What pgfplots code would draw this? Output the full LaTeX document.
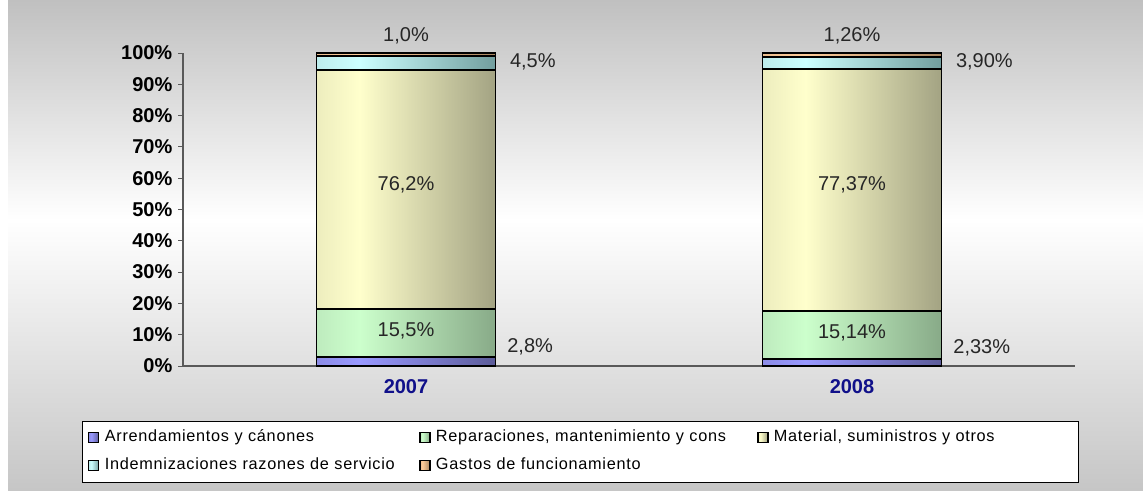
\documentclass[border=0pt]{standalone}
\usepackage{fontspec}
\setmainfont{Liberation Sans}
\newfontfamily\legfont[LetterSpace=4.5]{Liberation Sans}
\usepackage{pgfplots}
\pgfplotsset{compat=1.18}

% bar colours: left edge, bright streak, right edge
\definecolor{arrL}{HTML}{8C8CE6}\definecolor{arrB}{HTML}{9999FF}\definecolor{arrR}{HTML}{5C5C99}
\definecolor{repL}{HTML}{BEEBBE}\definecolor{repB}{HTML}{CCFFCC}\definecolor{repR}{HTML}{88AA88}
\definecolor{matL}{HTML}{EDEDBE}\definecolor{matB}{HTML}{FFFFCC}\definecolor{matR}{HTML}{A3A383}
\definecolor{indL}{HTML}{BEEDED}\definecolor{indB}{HTML}{CCFFFF}\definecolor{indR}{HTML}{729E9E}
\definecolor{gasL}{HTML}{EDBE8F}\definecolor{gasB}{HTML}{FFCC99}\definecolor{gasR}{HTML}{A88560}
\definecolor{navy}{HTML}{10108A}
\definecolor{bgtop}{HTML}{C0C0C0}
\definecolor{bgbot}{HTML}{C6C6C6}

\pgfdeclarehorizontalshading{arrS}{100bp}{color(0bp)=(arrL); color(25bp)=(arrL); color(37bp)=(arrB); color(75bp)=(arrR); color(100bp)=(arrR)}
\pgfdeclarehorizontalshading{repS}{100bp}{color(0bp)=(repL); color(25bp)=(repL); color(37bp)=(repB); color(75bp)=(repR); color(100bp)=(repR)}
\pgfdeclarehorizontalshading{matS}{100bp}{color(0bp)=(matL); color(25bp)=(matL); color(37bp)=(matB); color(75bp)=(matR); color(100bp)=(matR)}
\pgfdeclarehorizontalshading{indS}{100bp}{color(0bp)=(indL); color(25bp)=(indL); color(37bp)=(indB); color(75bp)=(indR); color(100bp)=(indR)}
\pgfdeclarehorizontalshading{gasS}{100bp}{color(0bp)=(gasL); color(25bp)=(gasL); color(37bp)=(gasB); color(75bp)=(gasR); color(100bp)=(gasR)}

\newcommand{\lgimg}[1]{\draw[fill=#1, draw=black, line width=0.9pt] (0pt,-3pt) rectangle (7.5pt,4.5pt);}

% one axis per year so that every bar gets its own shading
\pgfplotsset{
  yearaxis/.style={
    at={(137.25pt,93pt)}, anchor=south west,
    scale only axis, width=669pt, height=234.75pt,
    ybar stacked, bar width=134.25pt,
    xmin=-0.5, xmax=1.5, ymin=0, ymax=100,
    clip=false,
    point meta=explicit symbolic,
    nodes near coords,
    every node near coord/.append style={font=\fontsize{15}{18}\selectfont, text=black!85},
    every axis plot/.append style={draw=black, line width=1.4pt},
  },
  arr/.style={shade, shading=arrS, legend image code/.code={\lgimg{arrB}},
    every node near coord/.append style={anchor=west, xshift=72pt, yshift=11.25pt}},
  rep/.style={shade, shading=repS, legend image code/.code={\lgimg{repB}},
    every node near coord/.append style={anchor=center, yshift=1.5pt}},
  mat/.style={shade, shading=matS, legend image code/.code={\lgimg{matB}},
    every node near coord/.append style={anchor=center, yshift=3.75pt}},
  ind/.style={shade, shading=indS, legend image code/.code={\lgimg{indB}},
    every node near coord/.append style={anchor=west, xshift=74pt, yshift=1pt}},
  gas/.style={shade, shading=gasS, legend image code/.code={\lgimg{gasB}},
    every node near coord/.append style={anchor=center, yshift=14.25pt}},
}

\begin{document}
\begin{tikzpicture}
% background
\useasboundingbox (0,0) rectangle (857.25pt,367.5pt);
\fill[white] (0,0) rectangle (857.25pt,367.5pt);
\shade[top color=bgtop, bottom color=white] (6pt,202.5pt) rectangle (857.25pt,367.5pt);
\shade[top color=white, bottom color=bgbot] (6pt,0pt) rectangle (857.25pt,202.6pt);
% legend frame
\draw[black, line width=0.75pt, fill=white] (61.5pt,6pt) rectangle (808.5pt,51.75pt);

\begin{axis}[
  yearaxis,
  xtick={0,1}, xticklabels={2007,2008},
  ytick={0,10,...,100},
  yticklabels={0\%,10\%,20\%,30\%,40\%,50\%,60\%,70\%,80\%,90\%,100\%},
  axis x line*=bottom, axis y line*=left,
  axis line style={draw=black!65, line width=0.9pt, -},
  xtick style={draw=none},
  ytick style={draw=black!65, line width=0.75pt},
  tick align=outside, major tick length=3.5pt,
  y tick label style={font=\bfseries\fontsize{15}{18}\selectfont, xshift=-1pt},
  x tick label style={font=\bfseries\fontsize{15}{18}\selectfont, text=navy, yshift=-3pt},
  legend columns=3,
  legend cell align=left,
  legend style={
    at={(-0.1065,-0.205)}, anchor=north west,
    draw=none, fill=none, inner sep=0pt,
    font=\legfont\fontsize{12.2}{14}\selectfont,
    column sep=0pt, row sep=9.5pt,
    nodes={inner xsep=4pt, inner ysep=0pt, text height=8.5pt, text depth=3pt},
    /tikz/column 2/.style={nodes={text width=232pt}},
    /tikz/column 4/.style={nodes={text width=237pt}},
  },
]
% 2007
\addplot[arr] coordinates {(0,2.8)  [2,8\%]};
\addplot[rep] coordinates {(0,15.5) [15,5\%]};
\addplot[mat] coordinates {(0,76.2) [76,2\%]};
\addplot[ind] coordinates {(0,4.5)  [4,5\%]};
\addplot[gas] coordinates {(0,1.0)  [1,0\%]};
\legend{Arrendamientos y cánones, {Reparaciones, mantenimiento y cons}, {Material, suministros y otros},
  Indemnizaciones razones de servicio, Gastos de funcionamiento}
\end{axis}

\begin{axis}[yearaxis, hide axis]
% 2008
\addplot[arr] coordinates {(1,2.33)  [2,33\%]};
\addplot[rep] coordinates {(1,15.14) [15,14\%]};
\addplot[mat] coordinates {(1,77.37) [77,37\%]};
\addplot[ind] coordinates {(1,3.90)  [3,90\%]};
\addplot[gas] coordinates {(1,1.26)  [1,26\%]};
\end{axis}
\end{tikzpicture}
\end{document}
